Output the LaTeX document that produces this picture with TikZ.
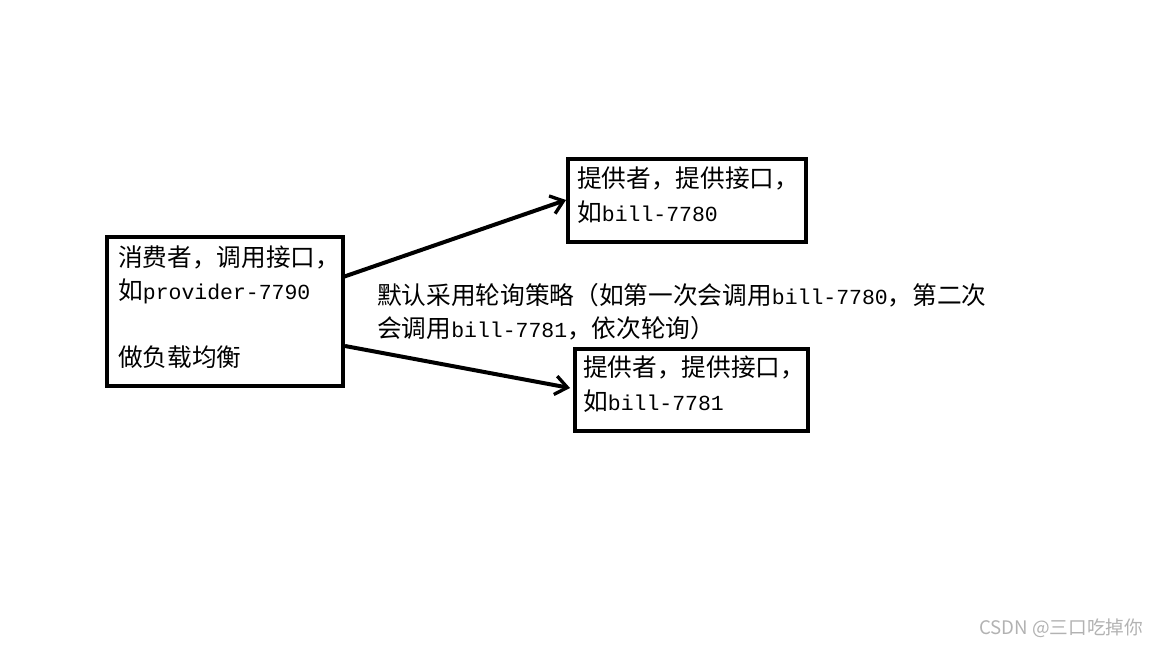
\documentclass[tikz,border=0pt]{standalone}
\usepackage{fontspec}
\setmainfont{Noto Sans CJK SC}
\newfontfamily\lm[Scale=0.87]{Liberation Mono}
\newcommand{\mm}[1]{{\lm #1}}
\usetikzlibrary{arrows.meta}
\begin{document}
\begin{tikzpicture}[x=0.75pt,y=-0.75pt,
  box/.style={draw,line width=3pt},
  txt/.style={anchor=north west,inner sep=0pt,align=left,font=\fontsize{18.5pt}{25pt}\selectfont},
  arr/.style={line width=3pt,-{Straight Barb[length=9pt,width=14pt,line width=2.5pt]}}]
\useasboundingbox (0,0) rectangle (1152,648);
\node[box,minimum width=236*0.75pt,minimum height=149*0.75pt,anchor=north west] (c) at (105,235) {};
\node[box,minimum width=238*0.75pt,minimum height=83*0.75pt,anchor=north west] (p1) at (566,157) {};
\node[box,minimum width=233*0.75pt,minimum height=82*0.75pt,anchor=north west] (p2) at (573,347) {};
\node[txt] (ct) at (118,245) {消费者，调用接口，\\如\mm{provider-7790}\\ \\做负载均衡};
\node[txt] (p1t) at (577,167) {提供者，提供接口，\\如\mm{bill-7780}};
\node[txt] (p2t) at (583,356) {提供者，提供接口，\\如\mm{bill-7781}};
\node[txt] (lab) at (377,283) {默认采用轮询策略（如第一次会调用\mm{bill-7780}，第二次\\会调用\mm{bill-7781}，依次轮询）};
\coordinate (a1) at (343,277); \coordinate (b1) at (566,200);
\coordinate (a2) at (345,346); \coordinate (b2) at (570,388);
\draw[arr] (a1) -- (b1);
\draw[arr] (a2) -- (b2);
\node[anchor=east,text=gray!60,font=\fontsize{14pt}{16pt}\selectfont] (wm) at (1148,628) {CSDN @三口吃掉你};
\end{tikzpicture}
\end{document}
